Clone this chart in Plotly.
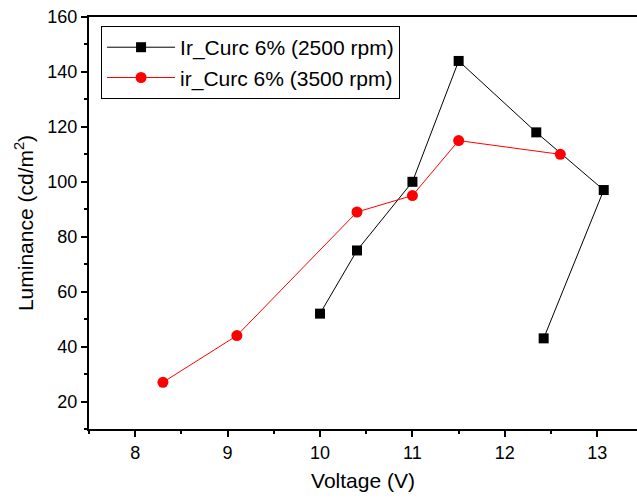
import plotly.graph_objects as go

# Luminance vs. voltage for two spin-coating speeds
v_2500 = [10.0, 10.4, 11.0, 11.5, 12.34, 13.07, 12.42]
lum_2500 = [52, 75, 100, 144, 118, 97, 43]

v_3500 = [8.3, 9.1, 10.4, 11.0, 11.5, 12.6]
lum_3500 = [27, 44, 89, 95, 115, 110]

name_2500 = "Ir_Curc 6% (2500 rpm)"
name_3500 = "ir_Curc 6% (3500 rpm)"

x_ticks = [8, 9, 10, 11, 12, 13]
y_ticks = [20, 40, 60, 80, 100, 120, 140, 160]

FONT = "Arial, 'Liberation Sans', sans-serif"

fig = go.Figure()
fig.add_trace(go.Scatter(
    x=v_2500, y=lum_2500, name=name_2500, mode="lines+markers",
    line=dict(color="black", width=1),
    marker=dict(symbol="square", size=10, color="black"),
))
fig.add_trace(go.Scatter(
    x=v_3500, y=lum_3500, name=name_3500, mode="lines+markers",
    line=dict(color="red", width=1),
    marker=dict(symbol="circle", size=11, color="red"),
))

axis_common = dict(
    showgrid=False, zeroline=False, showline=True, linecolor="black",
    linewidth=2, ticks="outside", ticklen=6, tickwidth=1.5, tickcolor="black",
    tickfont=dict(family=FONT, size=18, color="black"),
)

fig.update_xaxes(
    **axis_common, range=[7.5, 13.43], tickvals=x_ticks, mirror=True,
    minor=dict(dtick=0.5, ticks="outside", ticklen=3, tickcolor="black", tickwidth=1.5),
    title=dict(text="Voltage (V)", font=dict(family=FONT, size=21, color="black"), standoff=12),
)
fig.update_yaxes(
    **axis_common, range=[10, 160], tickvals=y_ticks,
    minor=dict(dtick=10, ticks="outside", ticklen=3, tickcolor="black", tickwidth=1.5),
    title=dict(text="Luminance (cd/m<sup>2</sup>)", font=dict(family=FONT, size=21, color="black"), standoff=8),
)

fig.update_layout(
    width=637, height=498,
    margin=dict(l=89, r=0, t=17, b=69),
    paper_bgcolor="white", plot_bgcolor="white",
    showlegend=True,
    legend=dict(
        x=0.022, y=0.978, xanchor="left", yanchor="top",
        bordercolor="black", borderwidth=1, bgcolor="white",
        font=dict(family=FONT, size=21, color="black"),
        tracegroupgap=0, itemwidth=68,
    ),
)

fig.write_html("out.html")
